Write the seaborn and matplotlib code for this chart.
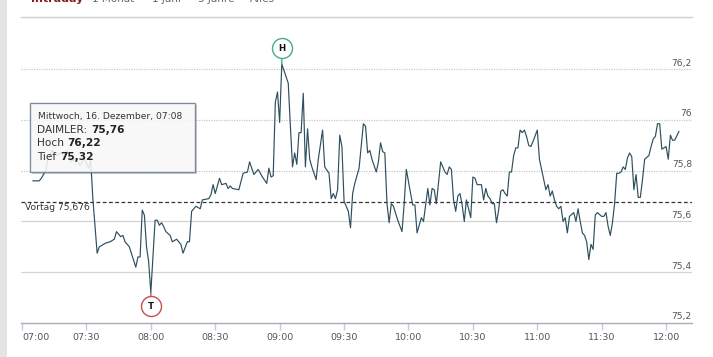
import matplotlib
matplotlib.use('Agg')
import matplotlib.pyplot as plt
import matplotlib.transforms as mtrans
from matplotlib.patches import Rectangle
import seaborn as sns

# ---------------- data ----------------
minutes = [5, 8, 9, 11, 12, 14, 16, 18, 20, 21, 23, 25, 27, 29, 31, 32, 33, 35, 36, 39,
           41, 43, 44, 46, 47, 48, 50, 53, 54, 55, 56, 57, 58, 59, 60, 62, 63, 64, 65, 66,
           67, 69, 70, 72, 74, 75, 77, 78, 79, 81, 83, 84, 87, 88, 89, 90, 92, 93, 95, 96,
           97, 98, 101, 103, 105, 106, 108, 110, 112, 114, 115, 116, 117, 118, 119, 120, 121, 122, 124, 125,
           126, 127, 128, 129, 130, 131, 132, 133, 134, 135, 137, 138, 140, 141, 143, 144, 145, 146, 147, 148,
           149, 150, 152, 153, 154, 155, 157, 159, 160, 161, 162, 163, 165, 166, 167, 168, 169, 170, 171, 172,
           173, 175, 177, 178, 179, 181, 182, 183, 184, 185, 186, 187, 188, 189, 190, 191, 192, 193, 195, 197,
           198, 199, 200, 201, 202, 203, 204, 205, 206, 207, 209, 210, 211, 212, 214, 215, 216, 217, 218, 219,
           220, 221, 222, 223, 224, 225, 226, 227, 228, 229, 230, 231, 232, 233, 234, 235, 236, 237, 238, 240,
           241, 242, 244, 245, 246, 247, 248, 249, 250, 251, 252, 253, 254, 255, 257, 258, 259, 260, 261, 262,
           263, 264, 265, 266, 267, 268, 270, 271, 272, 273, 274, 275, 276, 277, 278, 279, 280, 281, 282, 283,
           284, 285, 286, 287, 288, 289, 290, 292, 293, 294, 295, 296, 297, 298, 300, 301, 302, 303, 304, 306]
price = [75.76, 75.76, 75.77, 75.80, 75.84, 75.88, 75.86, 75.87, 75.85, 75.88, 75.835, 75.85, 75.82, 75.85, 75.81, 75.84, 75.69, 75.475, 75.50, 75.515,
         75.52, 75.53, 75.56, 75.54, 75.545, 75.52, 75.50, 75.42, 75.46, 75.46, 75.645, 75.625, 75.50, 75.44, 75.32, 75.605, 75.605, 75.585, 75.595, 75.58,
         75.56, 75.545, 75.52, 75.53, 75.51, 75.475, 75.52, 75.52, 75.64, 75.66, 75.65, 75.685, 75.69, 75.705, 75.745, 75.71, 75.77, 75.745, 75.75, 75.73,
         75.74, 75.73, 75.725, 75.79, 75.795, 75.835, 75.785, 75.805, 75.775, 75.75, 75.81, 75.775, 75.78, 76.07, 76.11, 75.99, 76.22, 76.195, 76.145, 75.975,
         75.815, 75.87, 75.825, 75.95, 75.95, 76.105, 75.815, 75.965, 75.845, 75.815, 75.765, 75.845, 75.96, 75.815, 75.79, 75.69, 75.71, 75.69, 75.725, 75.94,
         75.895, 75.68, 75.64, 75.575, 75.71, 75.75, 75.81, 75.985, 75.975, 75.87, 75.88, 75.845, 75.795, 75.835, 75.91, 75.875, 75.87, 75.67, 75.595, 75.67,
         75.66, 75.605, 75.56, 75.67, 75.805, 75.71, 75.665, 75.665, 75.555, 75.585, 75.615, 75.60, 75.665, 75.73, 75.665, 75.73, 75.725, 75.67, 75.835, 75.795,
         75.785, 75.815, 75.805, 75.685, 75.64, 75.70, 75.71, 75.665, 75.60, 75.685, 75.615, 75.775, 75.77, 75.745, 75.745, 75.685, 75.73, 75.70, 75.69, 75.67,
         75.67, 75.595, 75.645, 75.72, 75.725, 75.71, 75.70, 75.795, 75.795, 75.86, 75.89, 75.89, 75.96, 75.95, 75.96, 75.935, 75.90, 75.895, 75.915, 75.96,
         75.845, 75.805, 75.725, 75.745, 75.70, 75.72, 75.685, 75.66, 75.65, 75.66, 75.60, 75.615, 75.555, 75.62, 75.635, 75.60, 75.65, 75.60, 75.555, 75.545,
         75.52, 75.45, 75.51, 75.49, 75.625, 75.635, 75.62, 75.62, 75.635, 75.58, 75.545, 75.595, 75.67, 75.79, 75.79, 75.795, 75.815, 75.805, 75.85, 75.87,
         75.855, 75.725, 75.785, 75.695, 75.695, 75.765, 75.845, 75.86, 75.895, 75.925, 75.935, 75.985, 75.985, 75.885, 75.895, 75.845, 75.94, 75.92, 75.92, 75.955]

x_ticks = [0, 30, 60, 90, 120, 150, 180, 210, 240, 270, 300]
x_labels = ["07:00", "07:30", "08:00", "08:30", "09:00", "09:30",
            "10:00", "10:30", "11:00", "11:30", "12:00"]
y_ticks = [75.2, 75.4, 75.6, 75.8, 76.0, 76.2]
prev_close = 75.676
tooltip_date = "Mittwoch, 16. Dezember, 07:08"
tooltip_name = "DAIMLER"
tooltip_value = 75.76
header_items = ["Intraday", "1 Monat", "1 Jahr", "5 Jahre", "Alles"]


def de(v, nd=None):
    s = f"{v:.{nd}f}" if nd is not None else f"{v:g}"
    return s.replace('.', ',')


sns.set_theme(style='white')
plt.rcParams['font.family'] = ['DejaVu Sans']

W, H = 713, 357
fig = plt.figure(figsize=(W / 100, H / 100), dpi=100)
fig.patch.set_facecolor('white')


def fx(x):
    return x / W


def fy(y):
    return 1 - y / H


# left hatched strip
fig.patches.append(Rectangle((0, 0), fx(7), 1, transform=fig.transFigure,
                             facecolor='#e4e4e4', edgecolor='none', zorder=0))

ax = fig.add_axes([fx(21), fy(323), 671 / W, 306 / H])
ax.set_facecolor('white')
ax.set_xlim(-0.466, 312.06)
ax.set_ylim(75.2, 76.4055)

# grid lines
for v in y_ticks[1:]:
    if v >= 75.8:
        ax.axhline(v, color='#c9c9c9', lw=0.9, ls=(0, (1, 1)), zorder=1)
    else:
        ax.axhline(v, color='#d2d6d2', lw=0.9, zorder=1)

# main line
line_color = '#2e4f5d'
sns.lineplot(x=minutes, y=price, ax=ax, color=line_color, lw=0.85, zorder=3,
             estimator=None)
ax.set_xlabel('')
ax.set_ylabel('')

# spines
for s in ['left', 'right']:
    ax.spines[s].set_visible(False)
ax.spines['top'].set_color('#d0d0d0')
ax.spines['top'].set_linewidth(1.0)
ax.spines['bottom'].set_color('#a8adb8')
ax.spines['bottom'].set_linestyle((0, (1, 1)))
ax.spines['bottom'].set_linewidth(1.0)

# x ticks
ax.set_xticks(x_ticks, x_labels)
ax.tick_params(axis='x', direction='out', length=5, width=1, color='#c3cbdc',
               labelsize=6.8, labelcolor='#555555', pad=2, bottom=True)
ax.get_xticklabels()[0].set_ha('left')
ax.set_yticks([])

# y labels (right side, above grid lines)
ylab_trans = mtrans.offset_copy(
    mtrans.blended_transform_factory(ax.transAxes, ax.transData),
    fig=fig, x=0, y=1.5, units='dots')
for v in y_ticks:
    ax.text(1.0, v, de(v), transform=ylab_trans, ha='right', va='bottom',
            fontsize=6.6, color='#555555', zorder=4)

# previous close
ax.axhline(prev_close, color='#333333', lw=0.9, ls=(0, (3, 2)), zorder=2)
vortag_trans = mtrans.offset_copy(
    mtrans.blended_transform_factory(ax.transAxes, ax.transData),
    fig=fig, x=0, y=-0.5, units='dots')
ax.text((25 - 21) / 671, prev_close, f"Vortag {de(prev_close, 3)}",
        transform=vortag_trans, ha='left', va='top', fontsize=6.6,
        color='#333333', zorder=4)

# high / low markers
hi_val = max(price)
lo_val = min(price)
hi_t = minutes[price.index(hi_val)]
lo_t = minutes[price.index(lo_val)]
green = '#45ad8c'
red = '#c0504d'
hi_tr = mtrans.offset_copy(ax.transData, fig=fig, x=0, y=16, units='dots')
lo_tr = mtrans.offset_copy(ax.transData, fig=fig, x=0, y=-13.5, units='dots')
ax.annotate('', xy=(hi_t, hi_val), xytext=(0, 6 * 0.72), textcoords='offset points',
            arrowprops=dict(arrowstyle='-', color=green, lw=1, shrinkA=0, shrinkB=0),
            zorder=5)
ax.annotate('', xy=(lo_t, lo_val), xytext=(0, -4 * 0.72), textcoords='offset points',
            arrowprops=dict(arrowstyle='-', color=red, lw=1, shrinkA=0, shrinkB=0),
            zorder=5)
ax.plot([hi_t], [hi_val], 'o', ms=14.4, mfc='white', mec=green, mew=1.0,
        transform=hi_tr, clip_on=False, zorder=6)
ax.plot([lo_t], [lo_val], 'o', ms=14.4, mfc='white', mec=red, mew=1.0,
        transform=lo_tr, clip_on=False, zorder=6)
ax.text(hi_t, hi_val, 'H', transform=hi_tr, ha='center', va='center',
        fontsize=6.2, fontweight='bold', color='#111111', zorder=7, clip_on=False)
ax.text(lo_t, lo_val, 'T', transform=lo_tr, ha='center', va='center',
        fontsize=6.2, fontweight='bold', color='#111111', zorder=7, clip_on=False)

# header (cut off at top, as in the reference)
hx = [31, 92, 152, 198, 250]
for i, (x, s) in enumerate(zip(hx, header_items)):
    if i == 0:
        fig.text(fx(x), fy(2.5), s, ha='left', va='baseline', fontsize=8,
                 fontweight='bold', color='#8b1a1a')
    else:
        fig.text(fx(x), fy(2.5), s, ha='left', va='baseline', fontsize=7.5,
                 color='#666666')

# tooltip
bx0, by0, bx1, by1 = 30, 103, 195, 172
fig.patches.append(Rectangle((fx(bx0 + 1.5), fy(by1 + 1.5)), (bx1 - bx0) / W, (by1 - by0) / H,
                             transform=fig.transFigure, facecolor='black',
                             alpha=0.18, edgecolor='none', zorder=20))
fig.patches.append(Rectangle((fx(bx0), fy(by1)), (bx1 - bx0) / W, (by1 - by0) / H,
                             transform=fig.transFigure, facecolor='white',
                             alpha=0.86, edgecolor='none', zorder=21))
fig.patches.append(Rectangle((fx(bx0), fy(by1)), (bx1 - bx0) / W, (by1 - by0) / H,
                             transform=fig.transFigure, facecolor='none',
                             edgecolor='#7f8c99', lw=1.0, zorder=22))
tx = 37.5
fig.text(fx(tx), fy(116.7), tooltip_date, ha='left', va='center', fontsize=6.6,
         color='#333333', zorder=23)
renderer = fig.canvas.get_renderer()
rows = [(f"{tooltip_name}:", de(tooltip_value, 2), 130.0),
        ("Hoch", de(hi_val, 2), 143.3),
        ("Tief", de(lo_val, 2), 156.7)]
for lab, val, yy in rows:
    t = fig.text(fx(tx), fy(yy), lab, ha='left', va='center', fontsize=7.6,
                 color='#333333', zorder=23)
    bb = t.get_window_extent(renderer)
    fig.text(fx(bb.x1 + 3.2), fy(yy), val, ha='left', va='center', fontsize=7.6,
             fontweight='bold', color='#222222', zorder=23)

fig.savefig('out.png', dpi=100)
